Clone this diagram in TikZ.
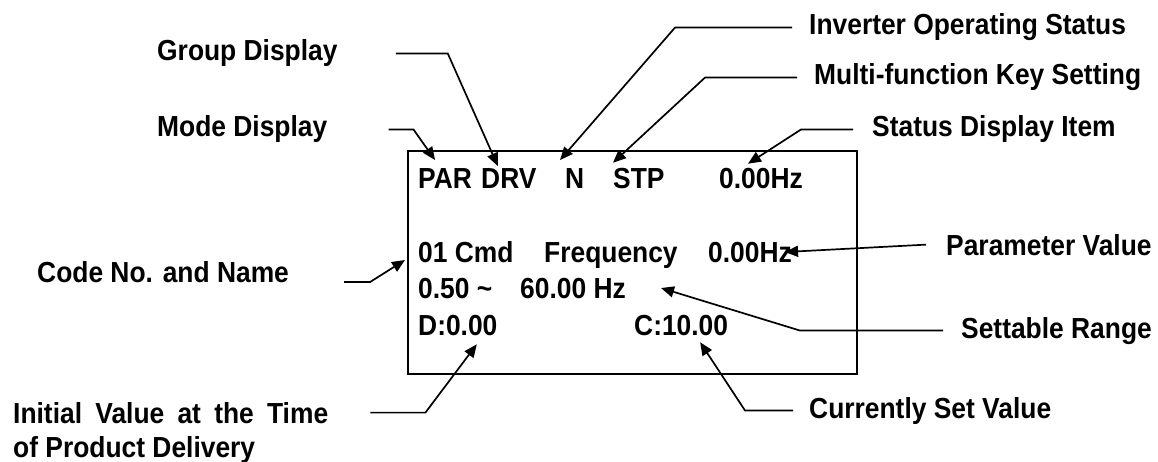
\documentclass[tikz,border=0pt]{standalone}
\usepackage{fontspec}
\setmainfont[FakeStretch=0.91]{Liberation Sans}
\usepackage{tikz}
\usetikzlibrary{arrows.meta, positioning, calc}
\tikzstyle{lbl} = [anchor=base west, font=\fontsize{29}{33}\selectfont\bfseries]
\tikzstyle{lcdtxt} = [lbl, outer ysep=9pt]
\tikzstyle{panel} = [rectangle, draw=black, line width=1.7pt, minimum width=449pt, minimum height=223pt]
\tikzstyle{arr} = [-{Triangle[length=13pt, width=11pt]}, line width=1.7pt]

\begin{document}
\begin{tikzpicture}[x=1pt, y=-1pt, every node/.style={inner sep=0pt}]
  \useasboundingbox (0,0) rectangle (1158,462);
  % ---------- keypad display (pixel grid, y grows downwards) ----------
  \node[panel] (lcd) at (632.5, 262.5) {};
  % Row 1 (y=189): mode, group, status, key, item
  \node[lcdtxt] (par) at (418, 189) {PAR};
  \node[lcdtxt] (drv) at (481, 189) {DRV};
  \node[lcdtxt] (stn) at (565, 189) {N};
  \node[lcdtxt] (stp) at (613, 189) {STP};
  \node[lcdtxt] (hz)  at (719, 189) {0.00Hz};
  % Row 2 (y=262): code and value
  \node[lcdtxt] (cmd) at (418, 262) {01 Cmd};
  \node[lcdtxt] (frq) at (544, 262) {Frequency};
  \node[lcdtxt] (val) at (708, 262) {0.00Hz};
  % Row 3 (y=298): range
  \node[lcdtxt] (lo)  at (418, 298) {0.50 \textasciitilde};
  \node[lcdtxt] (rng) at (520, 298) {60.00 Hz};
  % Row 4 (y=335): default and current
  \node[lcdtxt] (dft) at (418, 335) {D:0.00};
  \node[lcdtxt] (cur) at (634, 335) {C:10.00};
  % ---------- callout labels ----------
  \node[lbl] (grp)  at (157, 61)  {Group Display};
  \node[lbl] (mode) at (157, 137) {Mode Display};
  \node[lbl] (code) at (37, 282)  {Code No. and Name};
  \node[lbl] (ini)  at (13, 423)  {\makebox[315pt][s]{Initial Value at the Time}};
  \node[lbl] (ini2) at (13, 457)  {of Product Delivery};
  \node[lbl] (inv)  at (809, 35)  {Inverter Operating Status};
  \node[lbl] (mfk)  at (814, 85)  {Multi-function Key Setting};
  \node[lbl] (sdi)  at (872, 137) {Status Display Item};
  \node[lbl] (pv)   at (946, 255) {Parameter Value};
  \node[lbl] (sr)   at (961, 338) {Settable Range};
  \node[lbl] (csv)  at (809, 418) {Currently Set Value};
  % ---------- leaders (short level run, then slanted to the field) ----------
  \draw[arr] ([xshift=61pt]mode.east) -- ++(25,0) -- ([xshift=-10pt]par.north);
  \draw[arr] ([xshift=58pt]grp.east) -- ++(52,0) -- ([xshift=-11pt, yshift=-6pt]drv.north);
  \draw[arr] ([xshift=-17pt]inv.west) -- ++(-117,0) -- ([xshift=-5pt]stn.north west);
  \draw[arr] ([xshift=-17pt]mfk.west) -- ++(-92,0) -- ([yshift=-3pt]stp.north west);
  \draw[arr] ([xshift=-19pt]sdi.west) -- ++(-52,0) -- ([xshift=29pt, yshift=-4pt]hz.north west);
  \draw[arr] ([xshift=-20pt]pv.west) -- ([xshift=-7pt]val.east);
  \draw[arr] ([xshift=-18pt]sr.west) -- ++(-143,0) -- ([xshift=35pt]rng.east);
  \draw[arr] ([xshift=-16pt]csv.west) -- ++(-48,0) -- ([xshift=19pt, yshift=2pt]cur.south);
  \draw[arr] ([xshift=55pt]code.base east) -- ++(26,0) -- ([xshift=-13pt, yshift=2pt]cmd.base west);
  \draw[arr] ([xshift=42pt]ini.east) -- ++(55,0) -- ([xshift=19pt]dft.south);
\end{tikzpicture}
\end{document}
